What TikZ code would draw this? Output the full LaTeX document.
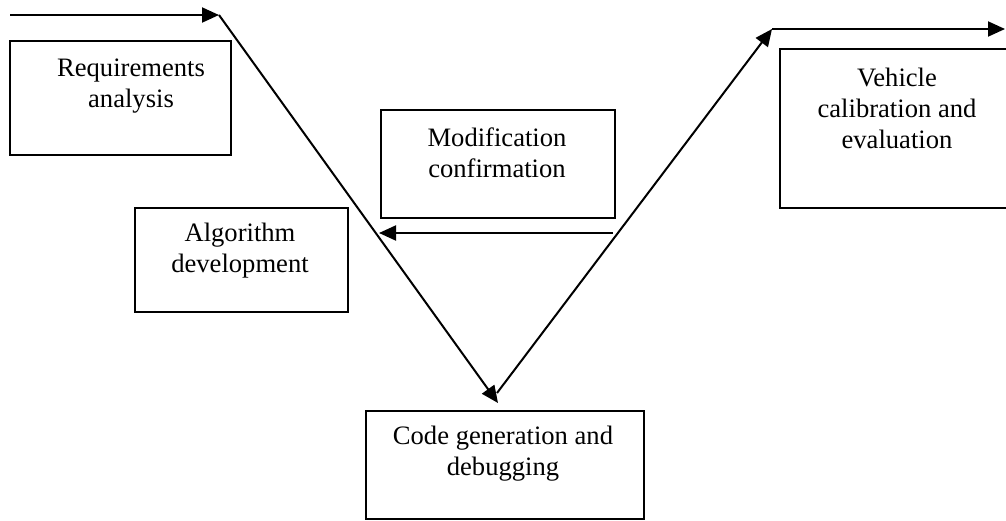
\documentclass[tikz,border=0pt]{standalone}
\usepackage{fontspec}
\setmainfont{Liberation Serif}
\usetikzlibrary{arrows.meta,calc}

\tikzset{
    stagebox/.style={draw, line width=1pt, inner sep=0pt, anchor=north west},
    stagetext/.style={align=center, inner sep=0pt, font=\fontsize{13.3}{15.5}\selectfont},
    flow/.style={line width=1pt, -{Triangle[length=8.5pt,width=7.5pt]}}
}

\begin{document}
\begin{tikzpicture}[x=0.5pt, y=-0.5pt]
    \useasboundingbox (0,0) rectangle (1006,520);
    \clip (0,0) rectangle (1006,520);

    % stage boxes
    \node[stagebox, minimum width=110.5pt, minimum height=57pt] (req) at (9,40) {};
    \node[stagebox, minimum width=117pt, minimum height=54pt] (mod) at (380,109) {};
    \node[stagebox, minimum width=106.5pt, minimum height=52pt] (alg) at (134,207) {};
    \node[stagebox, minimum width=140pt, minimum height=79.5pt] (veh) at (779,48) {};
    \node[stagebox, minimum width=139pt, minimum height=54pt] (code) at (365,410) {};

    % stage texts
    \node[stagetext] (reqtext) at (131,86) {Requirements\\analysis};
    \node[stagetext] (modtext) at (497,153) {Modification\\confirmation};
    \node[stagetext] (algtext) at (240,251) {Algorithm\\development};
    \node[stagetext] (vehtext) at (897,108) {Vehicle\\calibration and\\evaluation};
    \node[stagetext] (codetext) at (503,454) {Code generation and\\debugging};

    % the V
    \coordinate (start) at (10,15);
    \coordinate (topleft) at (219,15);
    \coordinate (bottomleft) at (498,403);
    \coordinate (bottomright) at (497,393);
    \coordinate (topright) at (772,29);
    \coordinate (finish) at (1005,29);
    \coordinate (backfrom) at (613,233);
    \coordinate (backto) at (379,233);

    \draw[flow] (start) -- (topleft);
    \draw[flow] (topleft) -- (bottomleft);
    \draw[flow] (bottomright) -- (topright);
    \draw[flow] (topright) -- (finish);
    \draw[flow] (backfrom) -- (backto);
\end{tikzpicture}
\end{document}
